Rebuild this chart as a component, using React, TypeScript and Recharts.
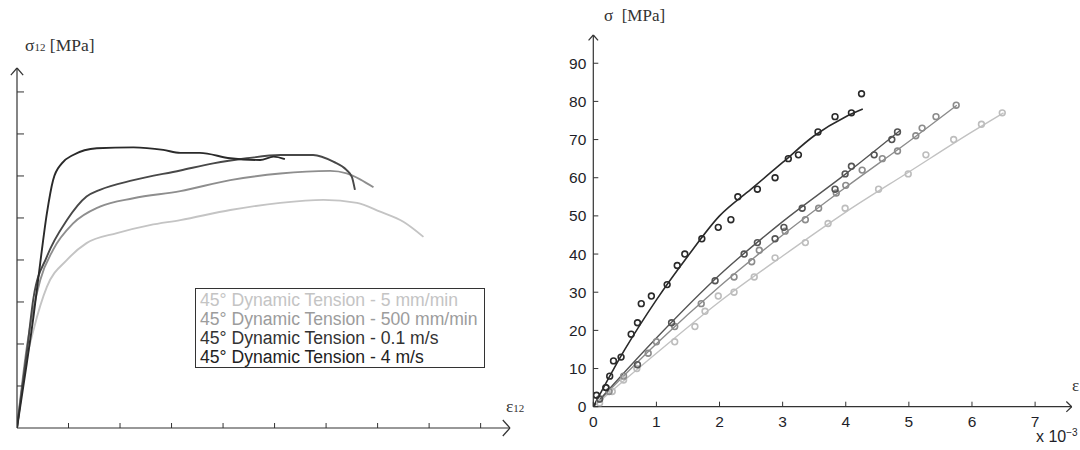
import React from "react"
import { ComposedChart, Line, Scatter, XAxis, YAxis, ReferenceLine } from "recharts"

// left panel: stress-strain curves (arbitrary units, no tick labels)
const leftXTicks = [1, 2, 3, 4, 5, 6, 7, 8, 9]
const leftYTicks = [1, 2, 3, 4, 5, 6, 7, 8]

const tension5mm = [
  [0, 0], [0.15, 1.4], [0.32, 2.33], [0.58, 3.36], [0.97, 4.0], [1.35, 4.4], [1.94, 4.64], [2.58, 4.83],
  [3.17, 4.95], [4.14, 5.19], [5.11, 5.36], [5.95, 5.43], [6.6, 5.36], [7.05, 5.15], [7.5, 4.91], [7.89, 4.55],
]
const tension500mm = [
  [0, 0], [0.2, 2.0], [0.45, 3.52], [0.7, 4.24], [1.09, 4.87], [1.61, 5.27], [2.26, 5.47], [3.17, 5.64],
  [4.14, 5.9], [5.11, 6.06], [6.08, 6.12], [6.4, 6.06], [6.66, 5.92], [6.92, 5.73],
]
const tension01ms = [
  [0, 0], [0.2, 1.9], [0.32, 3.1], [0.58, 4.08], [0.97, 4.95], [1.35, 5.51], [1.61, 5.67], [2.26, 5.9],
  [3.17, 6.13], [3.81, 6.3], [4.46, 6.42], [5.11, 6.5], [5.75, 6.5], [6.14, 6.34], [6.4, 6.14],
  [6.5, 5.98], [6.56, 5.67],
]
const tension4ms = [
  [0, 0], [0.19, 1.54], [0.32, 2.65], [0.45, 3.92], [0.58, 5.11], [0.7, 5.9], [0.87, 6.3], [1.09, 6.5],
  [1.55, 6.66], [2.26, 6.68], [2.84, 6.62], [3.17, 6.55], [3.55, 6.55], [4.14, 6.42], [4.72, 6.38],
  [4.98, 6.46], [5.2, 6.4],
]
const legendLabels = [
  "45° Dynamic Tension - 5 mm/min",
  "45° Dynamic Tension - 500 mm/min",
  "45° Dynamic Tension - 0.1 m/s",
  "45° Dynamic Tension - 4 m/s",
]

// right panel: strain (x 10^-3) vs stress [MPa], measured points + fitted lines
const rightXTicks = [0, 1, 2, 3, 4, 5, 6, 7]
const rightYTicks = [0, 10, 20, 30, 40, 50, 60, 70, 80, 90]

const pointsA = [
  [0.05, 3], [0.2, 5], [0.26, 8], [0.32, 12], [0.44, 13], [0.6, 19], [0.7, 22], [0.76, 27], [0.92, 29],
  [1.17, 32], [1.33, 37], [1.45, 40], [1.72, 44], [1.98, 47], [2.18, 49], [2.29, 55], [2.6, 57],
  [2.88, 60], [3.09, 65], [3.25, 66], [3.56, 72], [3.83, 76], [4.09, 77], [4.25, 82],
]
const fitA = [[0, 0], [0.5, 15], [1, 28], [1.5, 39.5], [2, 50], [2.5, 57], [3, 64], [3.5, 71], [4, 76], [4.27, 78]]

const pointsB = [
  [0.1, 2], [0.2, 5], [0.7, 11], [1.24, 22], [1.93, 33], [2.39, 40], [2.6, 43], [2.88, 44], [3.02, 47],
  [3.31, 52], [3.83, 57], [3.99, 61], [4.09, 63], [4.45, 66], [4.73, 70], [4.82, 72],
]
const fitB = [[0, 0], [1, 18], [2, 34.5], [3, 48.5], [4, 61], [4.87, 72.5]]

const pointsC = [
  [0.1, 2], [0.25, 4], [0.48, 8], [0.87, 14], [1.0, 17], [1.29, 21], [1.71, 27], [2.23, 34], [2.51, 38],
  [2.63, 41], [3.04, 46], [3.36, 49], [3.57, 52], [3.85, 56], [4.0, 58], [4.26, 62], [4.58, 65],
  [4.82, 67], [5.11, 71], [5.21, 73], [5.43, 76], [5.75, 79],
]
const fitC = [[0, 0], [1, 16.5], [2, 31.5], [3, 45], [4, 57.5], [5, 69.5], [5.76, 79]]

const pointsD = [
  [0.1, 1], [0.3, 4], [0.48, 7], [0.69, 10], [1.29, 17], [1.61, 21], [1.77, 25], [1.98, 29], [2.23, 30],
  [2.55, 34], [2.88, 39], [3.36, 43], [3.72, 48], [3.99, 52], [4.52, 57], [4.99, 61], [5.27, 66],
  [5.71, 70], [6.15, 74], [6.48, 77],
]
const fitD = [[0, 0], [1, 14], [2, 27.5], [3, 39.5], [4, 51], [5, 61.5], [6, 72], [6.5, 77]]

const toXY = (pts: number[][]) => pts.map(([x, y]) => ({ x, y }))

const AXIS = "#333"
const SANS = "'Liberation Sans', Arial, sans-serif"
const SERIF = "'Liberation Serif', 'Times New Roman', serif"

const YTick = ({ x, y, payload, len, showLabel }: any) => (
  <g>
    <line x1={x} y1={y} x2={x + len} y2={y} stroke={AXIS} strokeWidth={1} />
    {showLabel && (
      <text x={x - 7} y={y} dy={5.5} textAnchor="end" fontFamily={SANS} fontSize={15.5} fill="#1e1e28">
        {payload.value}
      </text>
    )}
  </g>
)

const XTick = ({ x, y, payload, len, showLabel }: any) => (
  <g>
    <line x1={x} y1={y} x2={x} y2={y - len} stroke={AXIS} strokeWidth={1} />
    {showLabel && (
      <text x={x} y={y} dy={20} textAnchor="middle" fontFamily={SANS} fontSize={15.5} fill="#1e1e28">
        {payload.value}
      </text>
    )}
  </g>
)

const ring = (color: string) => (props: any) =>
  <circle cx={props.cx} cy={props.cy} r={2.9} fill="none" stroke={color} strokeWidth={1.6} />

const arrow = (tip: { x: number; y: number }, a: { x: number; y: number }, b: { x: number; y: number }) => [
  <ReferenceLine key="a" segment={[a, tip]} stroke={AXIS} strokeWidth={1.2} ifOverflow="visible" />,
  <ReferenceLine key="b" segment={[b, tip]} stroke={AXIS} strokeWidth={1.2} ifOverflow="visible" />,
]

function LeftPanel() {
  const xMax = 9.57
  const yMax = 8.57
  return (
    <div style={{ position: "absolute", left: 0, top: 0 }}>
      <ComposedChart width={540} height={450} margin={{ top: 68, left: 0, right: 30, bottom: 0 }}>
        <XAxis
          dataKey="x" type="number" domain={[0, xMax]} ticks={leftXTicks} interval={0}
          allowDataOverflow height={22} tickSize={0} tickMargin={0} tickLine={false}
          axisLine={{ stroke: AXIS, strokeWidth: 1.2 }}
          tick={(p: any) => <XTick {...p} len={5} showLabel={false} />}
        />
        <YAxis
          dataKey="y" type="number" domain={[0, yMax]} ticks={leftYTicks} interval={0}
          allowDataOverflow width={17} tickSize={0} tickMargin={0} tickLine={false}
          axisLine={{ stroke: AXIS, strokeWidth: 1.2 }}
          tick={(p: any) => <YTick {...p} len={7} showLabel={false} />}
        />
        <Line data={toXY(tension5mm)} dataKey="y" type="monotone" stroke="#c4c4c4" strokeWidth={1.9} dot={false} isAnimationActive={false} />
        <Line data={toXY(tension500mm)} dataKey="y" type="monotone" stroke="#8e8e8e" strokeWidth={1.9} dot={false} isAnimationActive={false} />
        <Line data={toXY(tension01ms)} dataKey="y" type="monotone" stroke="#484848" strokeWidth={1.9} dot={false} isAnimationActive={false} />
        <Line data={toXY(tension4ms)} dataKey="y" type="monotone" stroke="#2a2a2a" strokeWidth={1.9} dot={false} isAnimationActive={false} />
        {arrow({ x: 0, y: yMax }, { x: -0.12, y: yMax - 0.17 }, { x: 0.12, y: yMax - 0.17 })}
        {arrow({ x: xMax, y: 0 }, { x: xMax - 0.14, y: 0.19 }, { x: xMax - 0.14, y: -0.19 })}
      </ComposedChart>
      <div style={{ position: "absolute", left: 25, top: 35, fontFamily: SERIF, fontSize: 17.5, color: "#333", whiteSpace: "nowrap" }}>
        σ<span style={{ fontSize: 11 }}>12</span> [MPa]
      </div>
      <div style={{ position: "absolute", left: 506, top: 396, fontFamily: SERIF, fontSize: 17.5, color: "#333", whiteSpace: "nowrap" }}>
        ε<span style={{ fontSize: 11 }}>12</span>
      </div>
      <div
        style={{
          position: "absolute", left: 195, top: 288, width: 290, height: 80, boxSizing: "border-box",
          border: "1.5px solid #333", padding: "2px 0 0 4px", fontFamily: SANS, fontSize: 17.6,
          lineHeight: "19px", whiteSpace: "nowrap", overflow: "hidden",
        }}
      >
        {legendLabels.map((label, i) => (
          <div key={label} style={{ color: ["#c4c4c4", "#9c9c9c", "#333", "#222"][i] }}>{label}</div>
        ))}
      </div>
    </div>
  )
}

function RightPanel() {
  const xMax = 7.58
  const yMax = 97.4
  return (
    <div style={{ position: "absolute", left: 540, top: 0 }}>
      <ComposedChart width={540} height={450} margin={{ top: 35, left: 0, right: 8.3, bottom: 0 }}>
        <XAxis
          dataKey="x" type="number" domain={[0, xMax]} ticks={rightXTicks} interval={0}
          allowDataOverflow height={43.3} tickSize={0} tickMargin={0} tickLine={false}
          axisLine={{ stroke: AXIS, strokeWidth: 1.2 }}
          tick={(p: any) => <XTick {...p} len={5} showLabel />}
        />
        <YAxis
          dataKey="y" type="number" domain={[0, yMax]} ticks={rightYTicks} interval={0}
          allowDataOverflow width={53.3} tickSize={0} tickMargin={0} tickLine={false}
          axisLine={{ stroke: AXIS, strokeWidth: 1.2 }}
          tick={(p: any) => <YTick {...p} len={5} showLabel />}
        />
        <Line data={toXY(fitD)} dataKey="y" type="monotone" stroke="#c2c2c2" strokeWidth={1.4} dot={false} isAnimationActive={false} />
        <Scatter data={toXY(pointsD)} dataKey="y" shape={ring("#bdbdbd")} isAnimationActive={false} />
        <Line data={toXY(fitC)} dataKey="y" type="monotone" stroke="#8c8c8c" strokeWidth={1.4} dot={false} isAnimationActive={false} />
        <Scatter data={toXY(pointsC)} dataKey="y" shape={ring("#8c8c8c")} isAnimationActive={false} />
        <Line data={toXY(fitB)} dataKey="y" type="monotone" stroke="#555" strokeWidth={1.4} dot={false} isAnimationActive={false} />
        <Scatter data={toXY(pointsB)} dataKey="y" shape={ring("#555")} isAnimationActive={false} />
        <Line data={toXY(fitA)} dataKey="y" type="monotone" stroke="#2a2a2a" strokeWidth={1.6} dot={false} isAnimationActive={false} />
        <Scatter data={toXY(pointsA)} dataKey="y" shape={ring("#2a2a2a")} isAnimationActive={false} />
        {arrow({ x: 0, y: yMax }, { x: -0.075, y: yMax - 1.4 }, { x: 0.075, y: yMax - 1.4 })}
        {arrow({ x: xMax, y: 0 }, { x: xMax - 0.085, y: 1.35 }, { x: xMax - 0.085, y: -1.35 })}
      </ComposedChart>
      <div style={{ position: "absolute", left: 64, top: 6, fontFamily: SERIF, fontSize: 17, color: "#333", whiteSpace: "nowrap" }}>
        σ&nbsp;&nbsp;[MPa]
      </div>
      <div style={{ position: "absolute", left: 532, top: 376, fontFamily: SERIF, fontSize: 17, color: "#333", whiteSpace: "nowrap" }}>
        ε
      </div>
      <div style={{ position: "absolute", left: 496, top: 427, fontFamily: SANS, fontSize: 16, color: "#1e1e28", whiteSpace: "nowrap" }}>
        x 10<sup style={{ fontSize: 10 }}>−3</sup>
      </div>
    </div>
  )
}

export default function App() {
  return (
    <div style={{ position: "absolute", left: 0, top: 0, width: 1080, height: 450, background: "#fff", overflow: "hidden" }}>
      <LeftPanel />
      <RightPanel />
    </div>
  )
}
